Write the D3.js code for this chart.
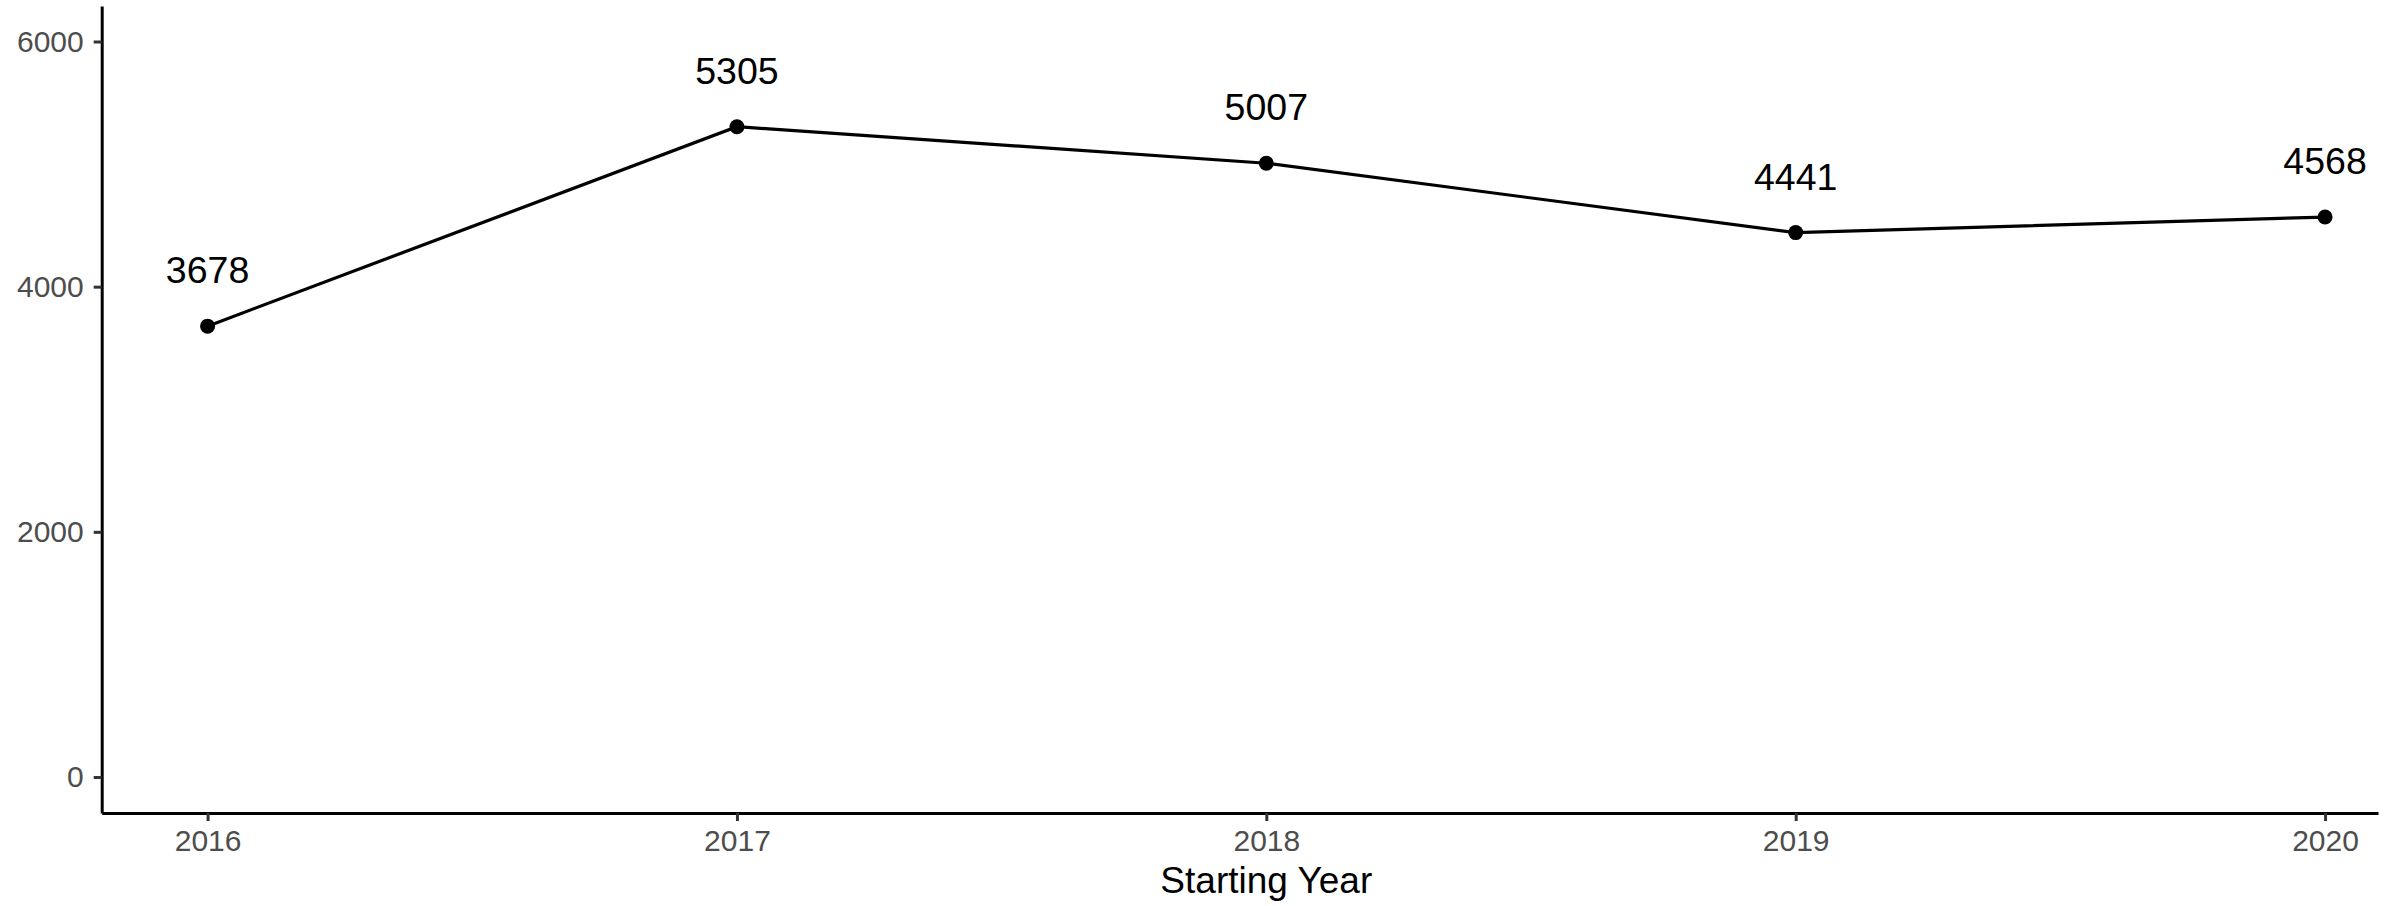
<!DOCTYPE html>
<html>
<head>
<meta charset="utf-8">
<script src="https://cdn.jsdelivr.net/npm/d3@7"></script>
<style>
  html, body { margin: 0; padding: 0; background: #fff; }
  svg { display: block; }
  text { font-family: "Liberation Sans", Arial, sans-serif; }
</style>
</head>
<body>
<svg id="chart" width="2402" height="906"></svg>
<script>
const years = [2016, 2017, 2018, 2019, 2020];
const values = [3678, 5305, 5007, 4441, 4568];
const yTicks = [0, 2000, 4000, 6000];
const xTicks = [2016, 2017, 2018, 2019, 2020];
const xTitle = "Starting Year";

const svg = d3.select("#chart");

const x = d3.scaleLinear().domain([2015.8, 2020.1]).range([101.7, 2378]);
const y = d3.scaleLinear().domain([-293.7, 6289.6]).range([813, 6]);

// Y axis
const yAxis = d3.axisLeft(y).tickValues(yTicks).tickSizeInner(8).tickSizeOuter(0).tickPadding(10).tickFormat(d3.format("d"));
const gy = svg.append("g").attr("transform", `translate(${x.range()[0]},0)`).call(yAxis);
gy.select(".domain").attr("stroke", "#000").attr("stroke-width", 3);
gy.selectAll(".tick line").attr("stroke", "#333").attr("stroke-width", 3);
gy.selectAll(".tick text").attr("fill", "#4d4d4d").style("font-size", "30px");

// X axis
const xAxis = d3.axisBottom(x).tickValues(xTicks).tickSizeInner(8).tickSizeOuter(0).tickPadding(9).tickFormat(d3.format("d"));
const gx = svg.append("g").attr("transform", `translate(0,${y.range()[0]})`).call(xAxis);
gx.select(".domain").attr("stroke", "#000").attr("stroke-width", 3);
gx.selectAll(".tick line").attr("stroke", "#333").attr("stroke-width", 3);
gx.selectAll(".tick text").attr("fill", "#4d4d4d").style("font-size", "30px");

// axis title
svg.append("text")
  .attr("x", x(2018))
  .attr("y", 893)
  .attr("text-anchor", "middle")
  .attr("fill", "#000")
  .style("font-size", "37px")
  .text(xTitle);

const data = years.map((yr, i) => ({ yr, v: values[i] }));

// line
svg.append("path")
  .datum(data)
  .attr("fill", "none")
  .attr("stroke", "#000")
  .attr("stroke-width", 3.2)
  .attr("d", d3.line().x(d => x(d.yr)).y(d => y(d.v)));

// points
svg.selectAll("circle.pt").data(data).join("circle")
  .attr("class", "pt")
  .attr("cx", d => x(d.yr))
  .attr("cy", d => y(d.v))
  .attr("r", 7.5)
  .attr("fill", "#000");

// labels
svg.selectAll("text.lbl").data(data).join("text")
  .attr("class", "lbl")
  .attr("x", d => x(d.yr))
  .attr("y", d => y(d.v) - 43)
  .attr("text-anchor", "middle")
  .attr("fill", "#000")
  .style("font-size", "37.5px")
  .text(d => d.v);
</script>
</body>
</html>
